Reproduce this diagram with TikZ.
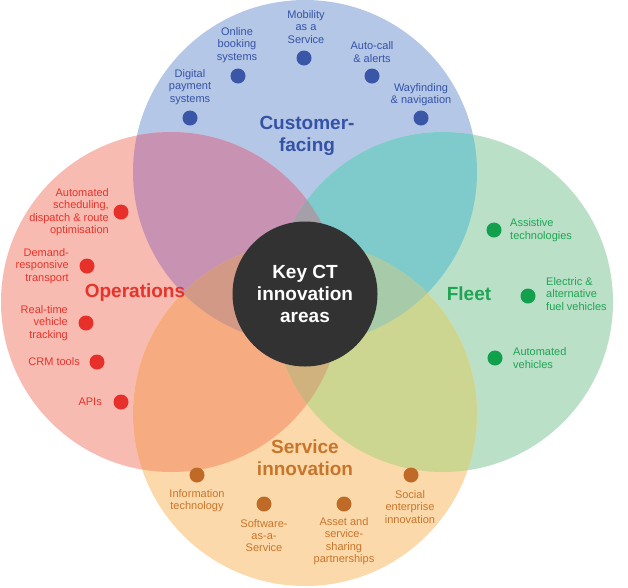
\documentclass[tikz,border=0pt]{standalone}
\usepackage{fontspec}
\setmainfont{Liberation Sans}
\definecolor{cTc}{HTML}{B4C7E7}
\definecolor{cLc}{HTML}{F8BBB2}
\definecolor{cRc}{HTML}{BAE0C8}
\definecolor{cBc}{HTML}{FCD9AA}
\definecolor{cTL}{HTML}{C893B2}
\definecolor{cTR}{HTML}{7FCBCB}
\definecolor{cLB}{HTML}{F6AC80}
\definecolor{cRB}{HTML}{CDD690}
\definecolor{cTLB}{HTML}{D29A86}
\definecolor{cTRB}{HTML}{A7CBA8}
\definecolor{cTLR}{HTML}{A59FAA}
\definecolor{cLRB}{HTML}{CFB27E}
\definecolor{darkc}{HTML}{323232}
\definecolor{txtT}{HTML}{3552A5}
\definecolor{dotT}{HTML}{3A57A7}
\definecolor{txtL}{HTML}{E8332A}
\definecolor{dotL}{HTML}{E8302A}
\definecolor{txtR}{HTML}{1FA453}
\definecolor{dotR}{HTML}{12A04C}
\definecolor{txtB}{HTML}{C8752C}
\definecolor{dotB}{HTML}{C06A28}
\newcommand\mylab{\fontsize{11}{12.4}\selectfont}
\newcommand\mybig{\fontsize{19}{22}\selectfont\bfseries}
\begin{document}
\begin{tikzpicture}[x=1pt,y=-1pt,
  dotbase/.style={circle, minimum size=15pt, inner sep=0pt},
  dT/.style={dotbase, fill=dotT},
  dL/.style={dotbase, fill=dotL},
  dR/.style={dotbase, fill=dotR},
  dB/.style={dotbase, fill=dotB},
  labbase/.style={font=\mylab, inner sep=0pt},
  lT/.style={labbase, text=txtT, align=center},
  lL/.style={labbase, text=txtL, align=right, anchor=east},
  lR/.style={labbase, text=txtR, align=left, anchor=west},
  lB/.style={labbase, text=txtB, align=center},
  big/.style={font=\mybig, inner sep=0pt, align=center}]
\useasboundingbox (0,0) rectangle (628,587);
\coordinate (cT) at (305,172);
\coordinate (cL) at (171,302);
\coordinate (cR) at (443,302);
\coordinate (cB) at (305,414);
% single circles
\fill[cTc] (cT) circle (172pt);
\fill[cLc] (cL) circle (170pt);
\fill[cRc] (cR) circle (170pt);
\fill[cBc] (cB) circle (172pt);
% pairs
\begin{scope}\clip (cT) circle (172pt); \fill[cTL] (cL) circle (170pt);\end{scope}
\begin{scope}\clip (cT) circle (172pt); \fill[cTR] (cR) circle (170pt);\end{scope}
\begin{scope}\clip (cB) circle (172pt); \fill[cLB] (cL) circle (170pt);\end{scope}
\begin{scope}\clip (cB) circle (172pt); \fill[cRB] (cR) circle (170pt);\end{scope}
% triples
\begin{scope}\clip (cT) circle (172pt); \clip (cL) circle (170pt); \fill[cTLB] (cB) circle (172pt);\end{scope}
\begin{scope}\clip (cT) circle (172pt); \clip (cR) circle (170pt); \fill[cTRB] (cB) circle (172pt);\end{scope}
\begin{scope}\clip (cT) circle (172pt); \clip (cL) circle (170pt); \fill[cTLR] (cR) circle (170pt);\end{scope}
\begin{scope}\clip (cB) circle (172pt); \clip (cL) circle (170pt); \fill[cLRB] (cR) circle (170pt);\end{scope}
% centre
\node[circle, fill=darkc, minimum size=145pt, inner sep=0pt, text=white, font=\mybig, align=center] (key) at (305,294) {Key CT\\innovation\\areas};
% customer-facing
\node[big, text=txtT] (cf) at (307,136) {Customer-\\facing};
\node[dT] (t1) at (190,118) {};
\node[lT] (t1l) at (190,87) {Digital\\payment\\systems};
\node[dT] (t2) at (238,76) {};
\node[lT] (t2l) at (237,45) {Online\\booking\\systems};
\node[dT] (t3) at (304,58) {};
\node[lT] (t3l) at (306,27) {Mobility\\as a\\Service};
\node[dT] (t4) at (372,76) {};
\node[lT] (t4l) at (372,52) {Auto-call\\\& alerts};
\node[dT] (t5) at (421,118) {};
\node[lT] (t5l) at (421,94.5) {Wayfinding\\\& navigation};
% operations
\node[big, text=txtL] (op) at (135,293) {Operations};
\node[dL] (l1) at (121,212) {};
\node[lL] (l1l) at (109,212) {Automated\\scheduling,\\dispatch \& route\\optimisation};
\node[dL] (l2) at (87,266) {};
\node[lL] (l2l) at (69,266) {Demand-\\responsive\\transport};
\node[dL] (l3) at (86,323) {};
\node[lL] (l3l) at (68,323) {Real-time\\vehicle\\tracking};
\node[dL] (l4) at (97,362) {};
\node[lL] (l4l) at (80,362) {CRM tools};
\node[dL] (l5) at (121,402) {};
\node[lL] (l5l) at (102,402) {APIs};
% fleet
\node[big, text=txtR] (fl) at (469,294) {Fleet};
\node[dR] (r1) at (494,230) {};
\node[lR] (r1l) at (510,230) {Assistive\\technologies};
\node[dR] (r2) at (528,296) {};
\node[lR] (r2l) at (546,294) {Electric \&\\alternative\\fuel vehicles};
\node[dR] (r3) at (495,358) {};
\node[lR] (r3l) at (513,358) {Automated\\vehicles};
% service innovation
\node[big, text=txtB] (si) at (305,457.5) {Service\\innovation};
\node[dB] (b1) at (197,475) {};
\node[lB] (b1l) at (197,500.5) {Information\\technology};
\node[dB] (b2) at (264,504) {};
\node[lB] (b2l) at (264,535.5) {Software-\\as-a-\\Service};
\node[dB] (b3) at (344,504) {};
\node[lB] (b3l) at (344,541) {Asset and\\service-\\sharing\\partnerships};
\node[dB] (b4) at (411,475) {};
\node[lB] (b4l) at (410,507) {Social\\enterprise\\innovation};
\end{tikzpicture}
\end{document}
